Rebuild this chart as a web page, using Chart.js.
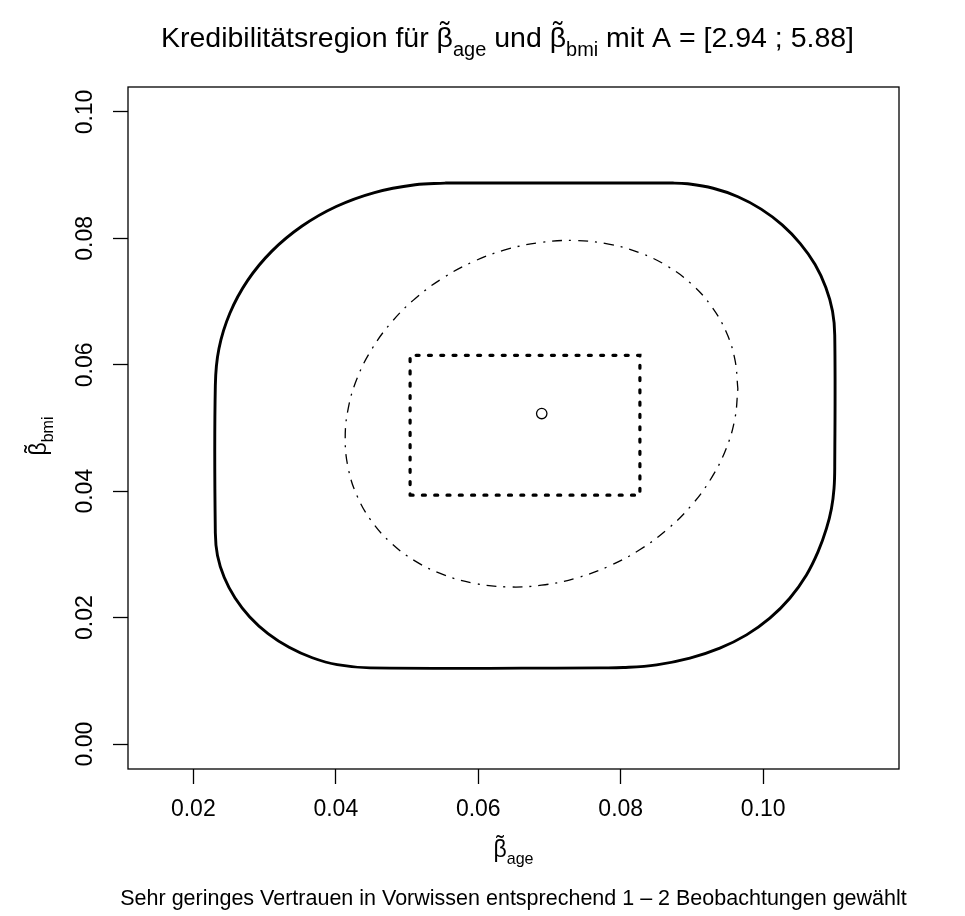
<!DOCTYPE html>
<html>
<head>
<meta charset="utf-8">
<title>Kredibilitätsregion</title>
<script src="https://cdn.jsdelivr.net/npm/chart.js@4.4.1/dist/chart.umd.min.js"></script>
<style>
  html, body { margin: 0; padding: 0; background: #fff; }
  canvas { display: block; }
</style>
</head>
<body>
<canvas id="chart" width="965" height="916"></canvas>
<script>
// Achsenbeschriftung
const xTicks = [0.02, 0.04, 0.06, 0.08, 0.10];
const yTicks = [0.00, 0.02, 0.04, 0.06, 0.08, 0.10];

// Rand der Kredibilitätsregion, im Uhrzeigersinn ab oberer Kante
const regionX = [0.05534, 0.08732, 0.08938, 0.09297, 0.09645, 0.09971, 0.10266, 0.10520, 0.10728, 0.10879,
                 0.10973, 0.11004, 0.11004, 0.10994, 0.10958, 0.10888, 0.10770, 0.10607, 0.10373, 0.10093,
                 0.09766, 0.09391, 0.08971, 0.08504, 0.08035, 0.07708, 0.04482, 0.04020, 0.03670, 0.03344,
                 0.03048, 0.02792, 0.02586, 0.02433, 0.02339, 0.02309, 0.02309, 0.02360, 0.02513, 0.02763,
                 0.03103, 0.03522, 0.04006, 0.04543, 0.05115];
const regionY = [0.08875, 0.08875, 0.08864, 0.08793, 0.08659, 0.08463, 0.08213, 0.07918, 0.07586, 0.07224,
                 0.06848, 0.06466, 0.04397, 0.04044, 0.03728, 0.03412, 0.03043, 0.02675, 0.02306, 0.01991,
                 0.01727, 0.01517, 0.01359, 0.01253, 0.01210, 0.01205, 0.01205, 0.01256, 0.01365, 0.01531,
                 0.01747, 0.02011, 0.02310, 0.02638, 0.02984, 0.03338, 0.05676, 0.06258, 0.06815, 0.07335,
                 0.07798, 0.08191, 0.08504, 0.08725, 0.08848];

// Ellipse um den Punktschätzer (strichpunktiert), ab rechtem Rand im Uhrzeigersinn
const ellipseX = [0.09644, 0.09602, 0.09478, 0.09274, 0.08999, 0.08659, 0.08266, 0.07830, 0.07366, 0.06888,
                  0.06409, 0.05945, 0.05510, 0.05116, 0.04777, 0.04501, 0.04298, 0.04174, 0.04132, 0.04174,
                  0.04298, 0.04501, 0.04777, 0.05116, 0.05510, 0.05945, 0.06409, 0.06888, 0.07366, 0.07830,
                  0.08266, 0.08659, 0.08999, 0.09274, 0.09478, 0.09602];
const ellipseY = [0.05621, 0.05144, 0.04669, 0.04212, 0.03785, 0.03402, 0.03074, 0.02812, 0.02623, 0.02513,
                  0.02486, 0.02542, 0.02679, 0.02894, 0.03180, 0.03528, 0.03927, 0.04366, 0.04831, 0.05308,
                  0.05782, 0.06240, 0.06667, 0.07050, 0.07377, 0.07640, 0.07829, 0.07938, 0.07966, 0.07910,
                  0.07772, 0.07558, 0.07272, 0.06924, 0.06525, 0.06086];

// Rechteck der Posterior-Erwartungswerte (gepunktet)
const rectX = [0.05043, 0.08269];
const rectY = [0.03938, 0.06150];

// Punktschätzer
const centerX = [0.06891];
const centerY = [0.05229];

const FONT = '"Liberation Sans", Arial, Helvetica, sans-serif';
const FS = 23;

const toPoints = (xs, ys) => xs.map((x, i) => ({ x: x, y: ys[i] }));
const closed = (pts) => pts.concat([pts[0]]);

const rectPts = [
    { x: rectX[0], y: rectY[0] },
    { x: rectX[1], y: rectY[0] },
    { x: rectX[1], y: rectY[1] },
    { x: rectX[0], y: rectY[1] },
    { x: rectX[0], y: rectY[0] }
];

// beta mit Tilde und Index, als Teil eines Ausdrucks
const partWidth = (ctx, p, size) => {
    ctx.font = size + 'px ' + FONT;
    if (typeof p === 'string') {
        return ctx.measureText(p).width;
    }
    const wb = ctx.measureText('β').width;
    ctx.font = (size * 0.7) + 'px ' + FONT;
    return wb + ctx.measureText(p.sub).width;
}

const drawExpr = (ctx, parts, cx, y, size) => {
    let total = 0;
    for (const p of parts) total += partWidth(ctx, p, size);
    let x = cx - total / 2;
    ctx.fillStyle = '#000';
    ctx.textAlign = 'left';
    ctx.textBaseline = 'alphabetic';
    for (const p of parts) {
        ctx.font = size + 'px ' + FONT;
        if (typeof p === 'string') {
            ctx.fillText(p, x, y);
            x += ctx.measureText(p).width;
            continue;
        }
        const wb = ctx.measureText('β').width;
        ctx.fillText('β', x, y);
        const wt = ctx.measureText('˜').width;
        ctx.fillText('˜', x + (wb - wt) / 2, y - size * 0.2);
        ctx.font = (size * 0.7) + 'px ' + FONT;
        ctx.fillText(p.sub, x + wb, y + size * 0.3);
        x += wb + ctx.measureText(p.sub).width;
    }
}

const frame = {
    id: 'frame',
    afterDraw(chart) {
        const ctx = chart.ctx;
        const a = chart.chartArea;
        const mid = (a.left + a.right) / 2;
        ctx.save();
        ctx.strokeStyle = '#000';
        ctx.lineWidth = 1.3;
        ctx.strokeRect(a.left, a.top, a.right - a.left, a.bottom - a.top);

        drawExpr(ctx, ['Kredibilitätsregion für ', { sub: 'age' }, ' und ', { sub: 'bmi' }, ' mit A = [2.94 ; 5.88]'], mid - 6, 47, 28.5);
        drawExpr(ctx, [{ sub: 'age' }], mid, 857, FS);
        drawExpr(ctx, ['Sehr geringes Vertrauen in Vorwissen entsprechend 1 \u2013 2 Beobachtungen gewählt'], mid, 905, 21.5);

        ctx.translate(46, (a.top + a.bottom) / 2 + 8);
        ctx.rotate(-Math.PI / 2);
        drawExpr(ctx, [{ sub: 'bmi' }], 0, 0, FS);
        ctx.restore();
    }
};

new Chart(document.getElementById('chart'), {
    type: 'scatter',
    data: {
        datasets: [
            {
                data: closed(toPoints(regionX, regionY)),
                showLine: true,
                borderColor: '#000',
                borderWidth: 2.9,
                tension: 0.4,
                pointRadius: 0,
                fill: false
            },
            {
                data: closed(toPoints(ellipseX, ellipseY)),
                showLine: true,
                borderColor: '#000',
                borderWidth: 1.3,
                borderDash: [2, 7, 10, 7],
                tension: 0.4,
                pointRadius: 0,
                fill: false
            },
            {
                data: rectPts,
                showLine: true,
                borderColor: '#000',
                borderWidth: 3.2,
                borderDash: [3, 9.3],
                borderCapStyle: 'round',
                tension: 0,
                pointRadius: 0,
                fill: false
            },
            {
                data: toPoints(centerX, centerY),
                showLine: false,
                pointRadius: 5.2,
                pointBorderWidth: 1.3,
                pointBorderColor: '#000',
                pointBackgroundColor: '#fff'
            }
        ]
    },
    options: {
        responsive: false,
        animation: false,
        events: [],
        layout: { padding: { top: 87, right: 66, bottom: 0, left: 0 } },
        plugins: {
            legend: { display: false },
            tooltip: { enabled: false }
        },
        scales: {
            x: {
                type: 'linear',
                min: 0.01083,
                max: 0.11906,
                afterBuildTicks: (s) => { s.ticks = xTicks.map(v => ({ value: v })); },
                afterFit: (s) => { s.height = 147; },
                ticks: {
                    callback: (v) => v.toFixed(2),
                    font: { family: FONT, size: FS },
                    color: '#000',
                    padding: 12,
                    maxRotation: 0,
                    autoSkip: false
                },
                grid: { drawOnChartArea: false, drawTicks: true, tickLength: 15, tickWidth: 1.3, tickColor: '#000' },
                border: { display: false }
            },
            y: {
                type: 'linear',
                min: -0.00395,
                max: 0.10395,
                afterBuildTicks: (s) => { s.ticks = yTicks.map(v => ({ value: v })); },
                afterFit: (s) => { s.width = 128; },
                ticks: {
                    callback: (v) => v.toFixed(2),
                    font: { family: FONT, size: FS },
                    color: '#000',
                    padding: 5,
                    minRotation: 90,
                    maxRotation: 90,
                    crossAlign: 'center',
                    autoSkip: false
                },
                grid: { drawOnChartArea: false, drawTicks: true, tickLength: 15, tickWidth: 1.3, tickColor: '#000' },
                border: { display: false }
            }
        }
    },
    plugins: [frame]
});
</script>
</body>
</html>
